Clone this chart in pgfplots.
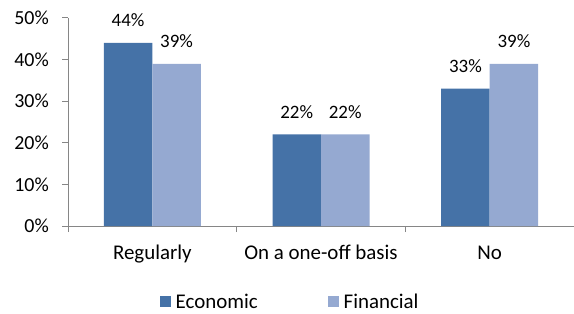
\documentclass[border=0pt]{standalone}
\usepackage{pgfplots}
\pgfplotsset{compat=1.18}
\usepackage{fontspec}
\setmainfont{Carlito}
\definecolor{econ}{HTML}{4572A7}
\definecolor{fin}{HTML}{95A9D1}
\definecolor{axgray}{HTML}{868686}
\pgfkeys{/pgf/number format/assume math mode=true}
\begin{document}
\begin{tikzpicture}[x=1bp,y=1bp]
\useasboundingbox (0,0) rectangle (574,313);
\begin{axis}[
  at={(68bp,87bp)}, anchor=south west,
  scale only axis, width=506bp, height=208bp,
  ybar=0pt, bar width=48.5bp,
  xmin=-0.5, xmax=2.5, ymin=0, ymax=50,
  axis lines*=left,
  axis line style={axgray, line width=1bp, -},
  tick align=outside,
  major tick length=6bp,
  tick style={axgray, line width=1bp},
  xtick={0,1,2},
  xticklabels={Regularly, On a one-off basis, No},
  major x tick style={draw=none},
  extra x ticks={-0.5,0.5,1.5,2.5},
  extra x tick labels={},
  extra x tick style={major x tick style={draw=axgray, line width=1bp}},
  ytick={0,10,20,30,40,50},
  yticklabel={\pgfmathprintnumber[assume math mode=true]{\tick}\%},
  yticklabel style={font=\fontsize{20}{24}\selectfont, inner sep=0pt, anchor=east, xshift=-13bp},
  xticklabel style={font=\fontsize{21}{25}\selectfont, inner sep=0pt, anchor=base, yshift=-27bp},
  nodes near coords={\pgfmathprintnumber[assume math mode=true]{\pgfplotspointmeta}\%},
  every node near coord/.append style={font=\fontsize{19}{23}\selectfont, anchor=base, inner sep=0pt, yshift=16bp, black},
  legend style={at={(0.439,-0.365)}, anchor=center, draw=none, fill=none,
    legend columns=2, font=\fontsize{21}{25}\selectfont,
    /tikz/every odd column/.append style={column sep=3bp},
    /tikz/every even column/.append style={column sep=68bp}},
]
\addplot[fill=econ, draw=none, legend image code/.code={\fill[econ] (0bp,-5.5bp) rectangle (11bp,5.5bp);}] coordinates {(0,44) (1,22) (2,33)};
\addplot[fill=fin, draw=none, legend image code/.code={\fill[fin] (0bp,-5.5bp) rectangle (11bp,5.5bp);}] coordinates {(0,39) (1,22) (2,39)};
\legend{Economic, Financial}
\end{axis}
\end{tikzpicture}
\end{document}
